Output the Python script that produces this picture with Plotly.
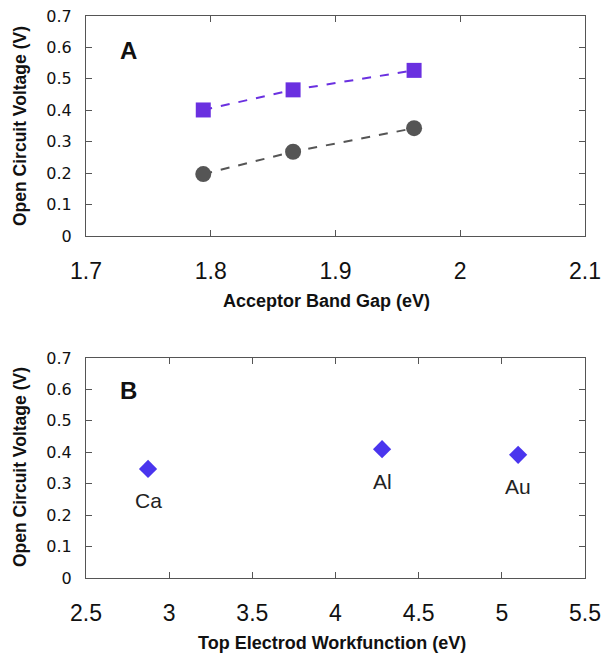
import plotly.graph_objects as go

# Panel A data
gap = [1.794, 1.866, 1.963]
voc_square = [0.401, 0.465, 0.527]
voc_circle = [0.197, 0.268, 0.343]

# Panel B data
workfunction = [2.873, 4.28, 5.098]
voc_metal = [0.347, 0.41, 0.392]
metal_names = ["Ca", "Al", "Au"]

# Tick labels
a_xticks = [1.7, 1.8, 1.9, 2.0, 2.1]
a_xlabels = ["1.7", "1.8", "1.9", "2", "2.1"]
b_xticks = [2.5, 3, 3.5, 4, 4.5, 5, 5.5]
b_xlabels = ["2.5", "3", "3.5", "4", "4.5", "5", "5.5"]
yticks = [0, 0.1, 0.2, 0.3, 0.4, 0.5, 0.6, 0.7]
ylabels = ["0", "0.1", "0.2", "0.3", "0.4", "0.5", "0.6", "0.7"]

W, H = 601, 655
FONT = "Liberation Sans, Arial, Helvetica, sans-serif"
YFONT = "DejaVu Sans, Liberation Sans, sans-serif"

def px(x):
    return x / W

def py(y):
    return 1 - y / H

fig = go.Figure()

fig.add_trace(go.Scatter(
    x=gap, y=voc_square, mode="lines+markers",
    line=dict(color="#6a30e0", width=2, dash="dash"),
    marker=dict(symbol="square", size=15, color="#6a30e0"),
    xaxis="x", yaxis="y", showlegend=False))
fig.add_trace(go.Scatter(
    x=gap, y=voc_circle, mode="lines+markers",
    line=dict(color="#555555", width=2, dash="dash"),
    marker=dict(symbol="circle", size=16, color="#555555"),
    xaxis="x", yaxis="y", showlegend=False))
fig.add_trace(go.Scatter(
    x=workfunction, y=voc_metal, mode="markers",
    marker=dict(symbol="diamond", size=14, color="#4a35ee"),
    xaxis="x2", yaxis="y2", showlegend=False))

axis_common = dict(
    showline=True, linecolor="#555555", linewidth=1, mirror="ticks",
    ticks="inside", ticklen=6, tickcolor="#555555", showgrid=False,
    zeroline=False, automargin=False)

fig.update_layout(
    width=W, height=H,
    margin=dict(l=0, r=0, t=0, b=0, autoexpand=False),
    paper_bgcolor="white", plot_bgcolor="white",
    font=dict(family=FONT, color="#111111"),
    xaxis=dict(domain=[px(86), px(585)], range=[1.7, 2.1],
               tickvals=a_xticks, ticktext=a_xlabels,
               tickfont=dict(size=23, family=FONT), ticklabelstandoff=14,
               anchor="y", **axis_common),
    yaxis=dict(domain=[py(236), py(16)], range=[0, 0.7],
               tickvals=yticks, ticktext=ylabels,
               tickfont=dict(size=16, family=YFONT), ticklabelstandoff=10,
               anchor="x", **axis_common),
    xaxis2=dict(domain=[px(86), px(585)], range=[2.5, 5.5],
                tickvals=b_xticks, ticktext=b_xlabels,
                tickfont=dict(size=23, family=FONT), ticklabelstandoff=14,
                anchor="y2", **axis_common),
    yaxis2=dict(domain=[py(578), py(358)], range=[0, 0.7],
                tickvals=yticks, ticktext=ylabels,
                tickfont=dict(size=16, family=YFONT), ticklabelstandoff=10,
                anchor="x2", **axis_common),
)

annots = [
    dict(text="<b>Open Circuit Voltage (V)</b>", x=px(20), y=py(126), textangle=-90,
         font=dict(size=17.5)),
    dict(text="<b>Open Circuit Voltage (V)</b>", x=px(20), y=py(467), textangle=-90,
         font=dict(size=17.5)),
    dict(text="<b>Acceptor Band Gap (eV)</b>", x=px(326), y=py(301),
         font=dict(size=18)),
    dict(text="<b>Top Electrod Workfunction (eV)</b>", x=px(332), y=py(643),
         font=dict(size=18)),
    dict(text="<b>A</b>", x=px(128), y=py(51), font=dict(size=24)),
    dict(text="<b>B</b>", x=px(128), y=py(391), font=dict(size=24)),
]
for a in annots:
    fig.add_annotation(xref="paper", yref="paper", showarrow=False,
                       xanchor="center", yanchor="middle", **a)

for name, xv, yv in zip(metal_names, workfunction, voc_metal):
    fig.add_annotation(x=xv, y=yv, xref="x2", yref="y2", text=name,
                       showarrow=False, yshift=-32, xanchor="center",
                       yanchor="middle", font=dict(size=21, family=FONT, color="#222222"))

fig.write_html("out.html")
